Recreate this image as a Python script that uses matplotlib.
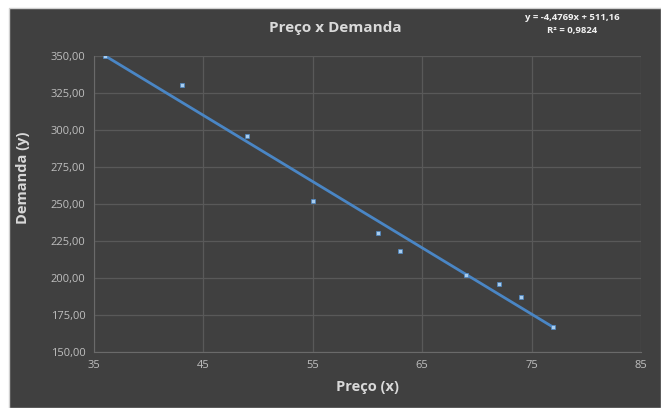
import matplotlib
matplotlib.use("Agg")
import matplotlib.pyplot as plt
from matplotlib.patches import Rectangle
from matplotlib.ticker import FuncFormatter
import numpy as np

# Preço (x) vs Demanda (y)
preco = [36, 43, 49, 55, 61, 63, 69, 72, 74, 77]
demanda = [350, 330, 296, 252, 230, 218, 202, 196, 187, 167]

# Linear trendline coefficients
slope = -4.4769
intercept = 511.16
r2 = 0.9824

x_ticks = [35, 45, 55, 65, 75, 85]
y_ticks = [150, 175, 200, 225, 250, 275, 300, 325, 350]

plt.rcParams['font.family'] = ['Open Sans', 'DejaVu Sans']

BG = '#404040'
GRID = '#595959'
TICK = '#bfbfbf'
LABEL = '#d9d9d9'

fig = plt.figure(figsize=(6.61, 4.08), dpi=100, facecolor='white')
# dark chart area with a light frame on the left/top
fig.patches.append(Rectangle((9 / 661, 0), 1 - 9 / 661, 1 - 8 / 408,
                             transform=fig.transFigure, facecolor=BG,
                             edgecolor='#d0d0d0', linewidth=1.0, zorder=-10))

ax = fig.add_axes([94 / 661, 1 - 351.7 / 408, (641 - 94) / 661, (351.7 - 55.7) / 408])
ax.set_facecolor(BG)
ax.set_xlim(x_ticks[0], x_ticks[-1])
ax.set_ylim(y_ticks[0], y_ticks[-1])
ax.set_xticks(x_ticks)
ax.set_yticks(y_ticks)
ax.yaxis.set_major_formatter(FuncFormatter(lambda v, p: f"{v:.2f}".replace('.', ',')))
ax.grid(True, color=GRID, linewidth=0.9)
ax.set_axisbelow(True)
for s in ax.spines.values():
    s.set_visible(False)
ax.spines['left'].set_visible(True)
ax.spines['bottom'].set_visible(True)
ax.spines['left'].set_color('#6a6a6a')
ax.spines['bottom'].set_color('#6a6a6a')
ax.tick_params(length=0, colors=TICK, labelsize=8, pad=6)

xs = np.array([min(preco), max(preco)])
ax.plot(xs, slope * xs + intercept, color='#4a86c5', linewidth=2.0, zorder=2)
ax.scatter(preco, demanda, marker='s', s=10, facecolor='#a9cdee',
           edgecolor='#4a86c5', linewidth=0.5, zorder=3)

fig.text(367.5 / 661, 1 - 387 / 408, 'Preço (x)', color=LABEL, fontsize=10.5,
         fontweight='bold', ha='center', va='center')
fig.text(23 / 661, 1 - 178 / 408, 'Demanda (y)', color=LABEL, fontsize=10.5,
         fontweight='bold', ha='center', va='center', rotation=90)

fig.text(335 / 661, 1 - 28 / 408, 'Preço x Demanda', color=LABEL, fontsize=11,
         fontweight='bold', ha='center', va='center')
fig.text(572 / 661, 1 - 17 / 408,
         f"y = {slope:.4f}x + {intercept:.2f}".replace('.', ','),
         color='#f2f2f2', fontsize=6.8, fontweight='bold', ha='center', va='center')
fig.text(572 / 661, 1 - 30 / 408, f"R² = {r2:.4f}".replace('.', ','),
         color='#f2f2f2', fontsize=6.8, fontweight='bold', ha='center', va='center')

fig.savefig('out.png', dpi=100, facecolor=fig.get_facecolor())
